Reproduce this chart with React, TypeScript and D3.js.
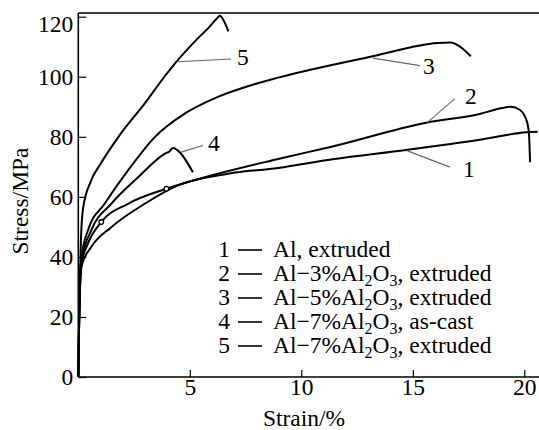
import * as d3 from 'd3';
import React, { useEffect, useRef } from 'react';

// Stress-strain curves (strain %, stress MPa)
const strain1 = [0, 0.04, 0.08, 0.15, 0.58, 1.48, 2.98, 4.47, 6.71, 8.96, 11.4, 14.7, 18.0, 20.1, 20.6];
const stress1 = [0, 20, 30, 37, 43.3, 49.9, 57.7, 63.8, 67.7, 69.6, 72.5, 75.6, 79.0, 81.5, 81.7];

const strain2 = [0, 0.04, 0.08, 0.15, 0.43, 1.03, 2.23, 3.95, 5.96, 8.96, 11.4, 15.6, 18.0, 19.0, 19.4, 19.8, 20.05, 20.2, 20.26];
const stress2 = [0, 20, 31, 38, 44.4, 51.6, 57.7, 62.7, 67.1, 72.6, 76.8, 84.7, 87.6, 89.6, 90.0, 89.0, 86.5, 82, 71.5];

const strain3 = [0, 0.04, 0.08, 0.15, 0.43, 1.18, 2.23, 3.43, 4.77, 6.26, 7.76, 8.96, 13.2, 16.1, 16.7, 17.1, 17.6];
const stress3 = [0, 20, 33, 40, 48.8, 57.7, 68.8, 79.9, 87.7, 93.3, 97.2, 99.7, 106.8, 111.2, 111.4, 110.1, 106.8];

const strain4 = [0, 0.04, 0.08, 0.15, 0.58, 1.48, 2.68, 3.87, 4.1, 4.25, 4.47, 5.14];
const stress4 = [0, 20, 32, 39, 48.8, 57.7, 66.5, 74.3, 75.2, 76.3, 75.4, 68.2];

const strain5 = [0, 0.04, 0.08, 0.12, 0.21, 0.55, 1.0, 1.8, 2.99, 3.86, 4.48, 5.23, 5.9, 6.2, 6.35, 6.5, 6.73];
const stress5 = [0, 20, 35, 46, 56, 65, 71, 80, 91.2, 100, 105.7, 111.8, 116.8, 119.3, 120.3, 119, 115.1];

// small open markers on curve 2
const markerStrain = [1.03, 3.95];
const markerStress = [51.6, 62.7];

const curveIds = ['1', '2', '3', '4', '5'];
const legendNames = [
    ['Al, extruded'],
    ['Al\u22123%Al', '2', 'O', '3', ', extruded'],
    ['Al\u22125%Al', '2', 'O', '3', ', extruded'],
    ['Al\u22127%Al', '2', 'O', '3', ', as-cast'],
    ['Al\u22127%Al', '2', 'O', '3', ', extruded'],
];

// leader lines: from point on curve to label end (data coords), label offset in px
const leaderFrom = [[14.73, 75.4], [15.64, 84.7], [13.21, 106.2], [4.61, 74.9], [4.47, 105.0]];
const leaderTo = [[16.67, 69.9], [16.89, 92.7], [15.32, 103.7], [5.59, 77.1], [6.85, 105.9]];
const labelOffset = [[13, 10], [10, 5], [3, 8], [5, 5], [6, 6]];

const xTicks = [5, 10, 15, 20];
const yTicks = [0, 20, 40, 60, 80, 100, 120];

const FONT = "'Liberation Serif', 'Times New Roman', Times, 'DejaVu Serif', serif";
const FS = '23.5px';

const App = () => {
    const ref = useRef(null);
    const width = 539;
    const height = 430;

    useEffect(() => {
        const svg = d3.select(ref.current);
        svg.selectAll('*').remove();

        const x = d3.scaleLinear().domain([0, 20]).range([78.3, 524.3]);
        const y = d3.scaleLinear().domain([0, 120]).range([377, 16.7]);

        // frame lines
        svg.append('line').attr('x1', x(0)).attr('x2', x(0)).attr('y1', 13).attr('y2', y(0))
            .attr('stroke', '#000').attr('stroke-width', 1.6);
        svg.append('line').attr('x1', x(0)).attr('x2', width).attr('y1', y(0)).attr('y2', y(0))
            .attr('stroke', '#000').attr('stroke-width', 1.6);
        svg.append('line').attr('x1', x(0)).attr('x2', width).attr('y1', 13).attr('y2', 13)
            .attr('stroke', '#000').attr('stroke-width', 1.6);

        // y axis (inward ticks)
        const gy = svg.append('g').attr('transform', `translate(${x(0)},0)`)
            .call(d3.axisLeft(y).tickValues(yTicks).tickSizeInner(-8).tickSizeOuter(0).tickPadding(5));
        gy.select('.domain').remove();
        gy.selectAll('line').attr('stroke', '#000').attr('stroke-width', 1.2);
        gy.selectAll('text').style('font-family', FONT).style('font-size', FS).attr('fill', '#000')
            .attr('dy', (d) => (d === 120 ? '0.65em' : '0.33em'));

        // x axis (inward ticks)
        const gx = svg.append('g').attr('transform', `translate(0,${y(0)})`)
            .call(d3.axisBottom(x).tickValues(xTicks).tickSizeInner(-7).tickSizeOuter(0).tickPadding(1));
        gx.select('.domain').remove();
        gx.selectAll('line').attr('stroke', '#000').attr('stroke-width', 1.2);
        gx.selectAll('text').style('font-family', FONT).style('font-size', FS).attr('fill', '#000');

        // axis titles
        svg.append('text').attr('transform', 'translate(28,201) rotate(-90)')
            .attr('text-anchor', 'middle').style('font-family', FONT).style('font-size', FS)
            .text('Stress/MPa');
        svg.append('text').attr('x', 304).attr('y', 426)
            .attr('text-anchor', 'middle').style('font-family', FONT).style('font-size', FS)
            .text('Strain/%');

        // curves
        const series = [
            [strain1, stress1], [strain2, stress2], [strain3, stress3], [strain4, stress4], [strain5, stress5],
        ];
        const line = d3.line()
            .x((d) => x(d[0]))
            .y((d) => y(d[1]))
            .curve(d3.curveMonotoneX);

        svg.append('g').selectAll('path')
            .data(series)
            .enter()
            .append('path')
            .attr('d', (s) => line(s[0].map((v, i) => [v, s[1][i]])))
            .attr('fill', 'none')
            .attr('stroke', '#000')
            .attr('stroke-width', 2)
            .attr('stroke-linejoin', 'round');

        svg.append('g').selectAll('circle')
            .data(markerStrain)
            .enter()
            .append('circle')
            .attr('cx', (d) => x(d))
            .attr('cy', (d, i) => y(markerStress[i]))
            .attr('r', 2.3)
            .attr('fill', '#fff')
            .attr('stroke', '#000')
            .attr('stroke-width', 1.3);

        // leader lines + curve numbers
        const ann = svg.append('g');
        curveIds.forEach((id, i) => {
            const [fx, fy] = leaderFrom[i];
            const [tx, ty] = leaderTo[i];
            ann.append('line')
                .attr('x1', x(fx)).attr('y1', y(fy)).attr('x2', x(tx)).attr('y2', y(ty))
                .attr('stroke', '#666').attr('stroke-width', 1.1);
            ann.append('text')
                .attr('x', x(tx) + labelOffset[i][0]).attr('y', y(ty) + labelOffset[i][1])
                .style('font-family', FONT).style('font-size', FS)
                .text(id);
        });

        // legend
        const leg = svg.append('g');
        const rowY = d3.scaleLinear().domain([0, 4]).range([257, 353]);
        curveIds.forEach((id, i) => {
            const yy = rowY(i);
            leg.append('text').attr('x', 230).attr('y', yy).attr('text-anchor', 'end')
                .style('font-family', FONT).style('font-size', FS).text(id);
            leg.append('line').attr('x1', 238).attr('x2', 262).attr('y1', yy - 7).attr('y2', yy - 7)
                .attr('stroke', '#000').attr('stroke-width', 1.6);
            const t = leg.append('text').attr('x', 273).attr('y', yy)
                .style('font-family', FONT).style('font-size', FS);
            const parts = legendNames[i];
            parts.forEach((p, j) => {
                const sub = parts.length > 1 && (j === 1 || j === 3);
                const ts = t.append('tspan').text(p);
                if (sub) ts.style('font-size', '16px').attr('dy', 5);
                else if (j > 0) ts.attr('dy', -5);
            });
        });
    }, []);

    return (
        <svg ref={ref} width={width} height={height}
            style={{ position: 'absolute', left: 0, top: 0, background: '#fff' }}>
        </svg>
    );
};

export default App;
